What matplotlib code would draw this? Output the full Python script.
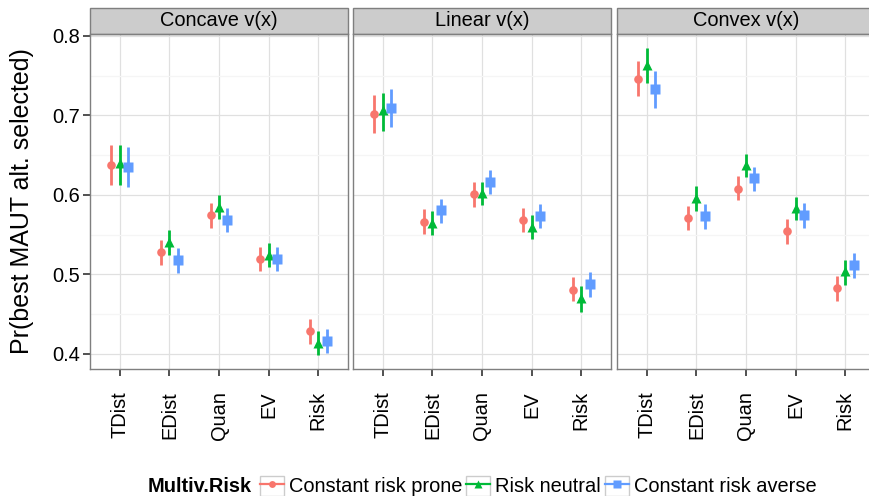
import matplotlib
matplotlib.use("Agg")
import matplotlib.pyplot as plt
from matplotlib.lines import Line2D
from matplotlib.patches import Rectangle
from matplotlib.legend_handler import HandlerTuple
import numpy as np

plt.rcParams['font.family'] = ['Liberation Sans', 'DejaVu Sans']

# Data
panels = ['Concave v(x)', 'Linear v(x)', 'Convex v(x)']
methods = ['TDist', 'EDist', 'Quan', 'EV', 'Risk']
groups = ['Constant risk prone', 'Risk neutral', 'Constant risk averse']

# estimates [panel][group][method]
est = {
    'Concave v(x)': [[0.638, 0.528, 0.575, 0.519, 0.429],
                     [0.640, 0.541, 0.585, 0.525, 0.414],
                     [0.635, 0.518, 0.569, 0.519, 0.416]],
    'Linear v(x)':  [[0.702, 0.566, 0.601, 0.569, 0.481],
                     [0.707, 0.565, 0.602, 0.560, 0.470],
                     [0.710, 0.581, 0.616, 0.574, 0.488]],
    'Convex v(x)':  [[0.746, 0.571, 0.608, 0.555, 0.483],
                     [0.763, 0.596, 0.638, 0.583, 0.504],
                     [0.733, 0.574, 0.621, 0.575, 0.512]],
}
lower = {
    'Concave v(x)': [[0.613, 0.512, 0.559, 0.504, 0.413],
                     [0.613, 0.525, 0.570, 0.509, 0.398],
                     [0.610, 0.502, 0.553, 0.504, 0.401]],
    'Linear v(x)':  [[0.678, 0.551, 0.585, 0.553, 0.466],
                     [0.681, 0.549, 0.587, 0.544, 0.453],
                     [0.686, 0.565, 0.601, 0.558, 0.472]],
    'Convex v(x)':  [[0.724, 0.556, 0.594, 0.538, 0.467],
                     [0.741, 0.580, 0.623, 0.568, 0.487],
                     [0.710, 0.557, 0.605, 0.559, 0.496]],
}
upper = {
    'Concave v(x)': [[0.663, 0.543, 0.590, 0.534, 0.444],
                     [0.663, 0.556, 0.600, 0.539, 0.429],
                     [0.660, 0.533, 0.583, 0.534, 0.431]],
    'Linear v(x)':  [[0.726, 0.582, 0.616, 0.583, 0.497],
                     [0.728, 0.580, 0.616, 0.575, 0.485],
                     [0.733, 0.595, 0.631, 0.589, 0.503]],
    'Convex v(x)':  [[0.769, 0.586, 0.624, 0.570, 0.498],
                     [0.785, 0.611, 0.652, 0.597, 0.518],
                     [0.756, 0.589, 0.635, 0.590, 0.527]],
}

colors = ['#F8766D', '#00BA38', '#619CFF']
markers = ['o', '^', 's']
msizes = [6.2, 7.8, 6.6]
offsets = [-0.17, 0.0, 0.17]

W, H = 869, 496
fig = plt.figure(figsize=(W / 100, H / 100), dpi=100)

lefts = [90, 353, 617]
pw = 258
top, bottom = 34, 369
strip_h = 26
fs = 14.4

x = np.arange(1, len(methods) + 1)
for i, p in enumerate(panels):
    ax = fig.add_axes([lefts[i] / W, 1 - bottom / H, pw / W, (bottom - top) / H])
    ax.set_xlim(0.4, 5.6)
    ax.set_ylim(0.381, 0.8025)
    ax.set_yticks([0.4, 0.5, 0.6, 0.7, 0.8])
    ax.set_yticks([0.45, 0.55, 0.65, 0.75], minor=True)
    ax.grid(True, which='major', color='#E0E0E0', lw=0.9)
    ax.grid(True, which='minor', axis='y', color='#F5F5F5', lw=0.9)
    ax.set_axisbelow(True)
    for s in ax.spines.values():
        s.set_color('#7F7F7F')
        s.set_linewidth(1.0)
    ax.set_xticks(x)
    ax.set_xticklabels(methods, rotation=90, fontsize=fs)
    ax.tick_params(axis='both', which='major', color='#333333', length=5,
                   width=1.2, labelcolor='black')
    ax.tick_params(axis='x', pad=11)
    ax.tick_params(axis='y', which='minor', length=0)
    if i == 0:
        ax.set_yticklabels(['0.4', '0.5', '0.6', '0.7', '0.8'], fontsize=fs)
        ax.tick_params(axis='y', pad=2)
        ax.set_ylabel('Pr(best MAUT alt. selected)', fontsize=18, labelpad=13)
    else:
        ax.tick_params(axis='y', labelleft=False, length=0)

    for g in range(3):
        e = np.array(est[p][g])
        lo = np.array(lower[p][g])
        hi = np.array(upper[p][g])
        xs = x + offsets[g]
        ax.vlines(xs, lo, hi, color=colors[g], lw=2.0, zorder=3)
        ax.plot(xs, e, ls='none', marker=markers[g], ms=msizes[g],
                color=colors[g], mec='none', zorder=4)

    # facet strip
    sh = strip_h / (bottom - top)
    ax.add_patch(Rectangle((0, 1), 1, sh, transform=ax.transAxes,
                           facecolor='#CCCCCC', edgecolor='#7F7F7F', lw=1.0,
                           clip_on=False))
    ax.text(0.5, 1 + sh / 2, p, transform=ax.transAxes, ha='center',
            va='center', fontsize=fs)

# legend
handles = []
for g in range(3):
    box = Rectangle((0, 0), 1, 1, facecolor='white', edgecolor='#CCCCCC', lw=1.0)
    ln = Line2D([], [], color=colors[g], marker=markers[g], ms=msizes[g] * 0.8,
                lw=1.6, mec='none')
    handles.append((box, ln))
fig.text(148 / W, 1 - 486 / H, 'Multiv.Risk', fontsize=fs, fontweight='bold',
         ha='left', va='center')
fig.legend(handles, groups, loc='center left', bbox_to_anchor=(260 / W, 1 - 486 / H),
           ncol=3, frameon=False, fontsize=fs, handlelength=1.2, handleheight=1.2,
           handletextpad=0.25, columnspacing=0.2, borderpad=0, borderaxespad=0,
           handler_map={tuple: HandlerTuple(ndivide=1, pad=0)})

fig.savefig('out.png', dpi=100)
